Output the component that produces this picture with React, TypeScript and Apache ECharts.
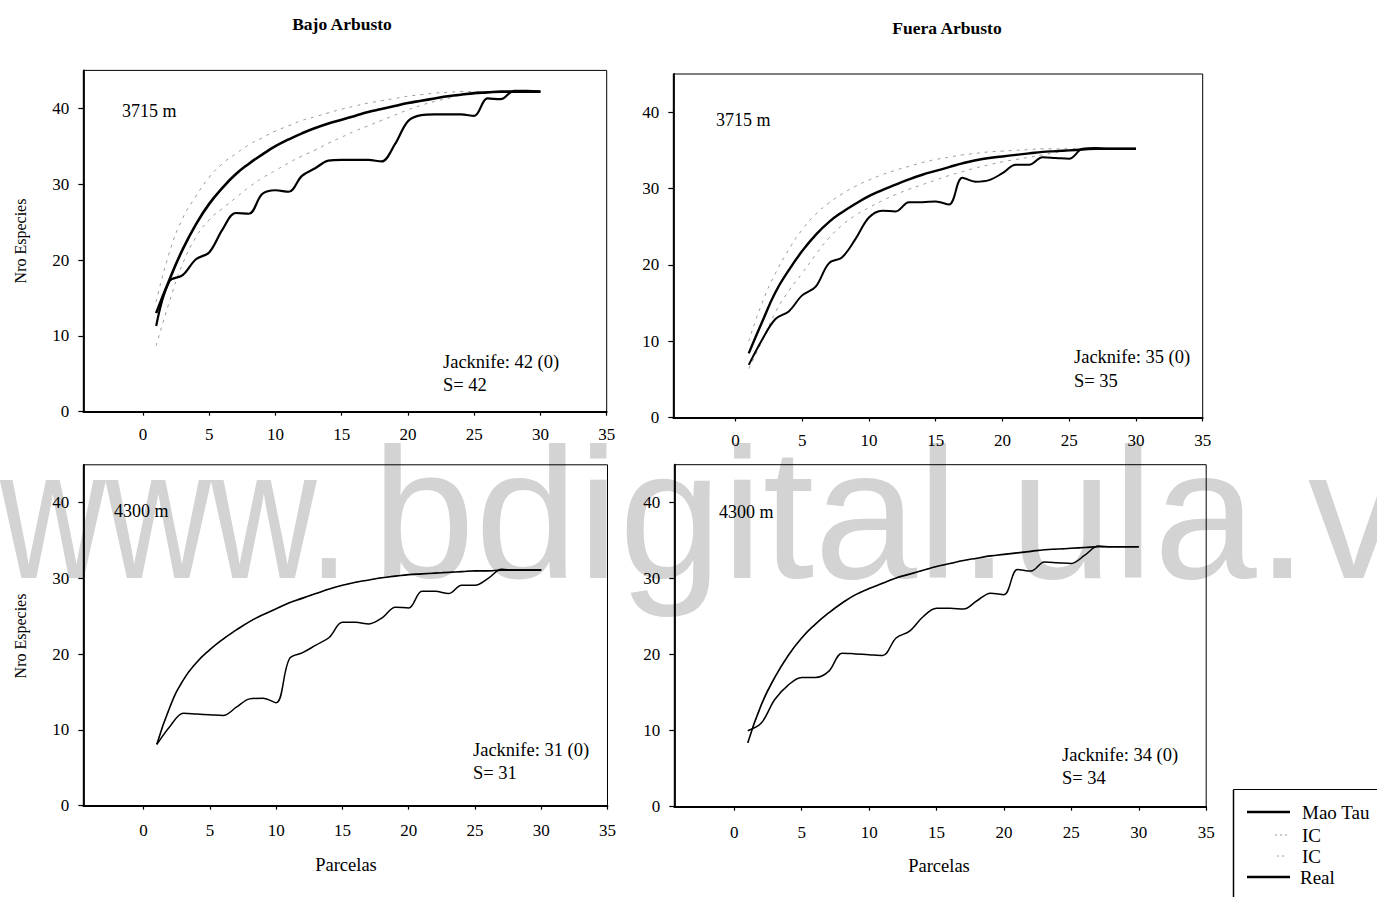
import React, { useEffect, useRef } from "react";
import * as echarts from "echarts";

// Parcelas (x values)
const parcelas = [1, 2, 3, 4, 5, 6, 7, 8, 9, 10, 11, 12, 13, 14, 15, 16, 17, 18, 19, 20, 21, 22, 23, 24, 25, 26, 27, 28, 29, 30];

const xTickValues = [0, 5, 10, 15, 20, 25, 30, 35];
const yTickValues = [0, 10, 20, 30, 40];

// Bajo Arbusto 3715 m
const bajo3715MaoTau = [13.0, 17.4, 21.4, 24.7, 27.4, 29.5, 31.3, 32.7, 33.9, 35.0, 35.9, 36.7, 37.4, 38.0, 38.5, 39.0, 39.5, 39.9, 40.3, 40.7, 41.0, 41.3, 41.6, 41.8, 42.0, 42.1, 42.2, 42.2, 42.2, 42.2];
const bajo3715ICSup = [14.5, 21.0, 25.5, 28.4, 30.9, 32.7, 34.0, 35.2, 36.1, 37.0, 37.7, 38.4, 38.9, 39.4, 39.9, 40.3, 40.7, 41.0, 41.3, 41.6, 41.8, 42.0, 42.1, 42.2, 42.2, 42.2, 42.2, 42.2, 42.2, 42.2];
const bajo3715ICInf = [8.7, 14.5, 19.5, 23.0, 25.3, 26.8, 28.2, 29.6, 30.8, 31.8, 32.8, 33.7, 34.5, 35.4, 36.2, 37.0, 37.7, 38.4, 39.1, 39.8, 40.4, 40.9, 41.3, 41.7, 41.9, 42.1, 42.2, 42.2, 42.2, 42.2];
const bajo3715Real = [11.3, 17.2, 18.0, 20.1, 21.0, 24.0, 26.2, 26.1, 28.7, 29.2, 29.0, 31.1, 32.1, 33.1, 33.2, 33.2, 33.2, 33.0, 35.2, 38.3, 39.1, 39.2, 39.2, 39.2, 39.0, 41.3, 41.2, 42.3, 42.3, 42.2];

// Fuera Arbusto 3715 m
const fuera3715MaoTau = [8.4, 12.5, 16.4, 19.3, 21.8, 23.9, 25.6, 26.9, 28.0, 29.0, 29.8, 30.5, 31.2, 31.8, 32.3, 32.8, 33.3, 33.7, 34.0, 34.2, 34.4, 34.6, 34.8, 34.9, 35.0, 35.1, 35.2, 35.2, 35.2, 35.2];
const fuera3715ICSup = [10.0, 15.0, 18.9, 22.0, 24.6, 26.6, 28.1, 29.3, 30.3, 31.1, 31.8, 32.4, 32.9, 33.4, 33.8, 34.1, 34.4, 34.6, 34.8, 34.9, 35.0, 35.1, 35.2, 35.2, 35.2, 35.2, 35.2, 35.2, 35.2, 35.2];
const fuera3715ICInf = [6.4, 10.0, 13.8, 16.6, 18.9, 21.3, 23.5, 25.2, 26.5, 27.5, 28.4, 29.2, 29.9, 30.5, 31.1, 31.7, 32.2, 32.7, 33.1, 33.5, 33.8, 34.1, 34.4, 34.7, 35.0, 35.2, 35.2, 35.2, 35.2, 35.2];
const fuera3715Real = [6.9, 10.2, 12.9, 13.9, 16.0, 17.1, 20.2, 21.0, 23.4, 26.2, 27.1, 27.0, 28.2, 28.2, 28.3, 27.9, 31.4, 30.9, 31.1, 32.0, 33.1, 33.1, 34.1, 34.0, 33.9, 35.2, 35.3, 35.2, 35.2, 35.2];

// Bajo Arbusto 4300 m
const bajo4300MaoTau = [8.1, 13.1, 16.6, 18.9, 20.6, 22.0, 23.2, 24.3, 25.2, 26.0, 26.8, 27.4, 28.0, 28.6, 29.1, 29.5, 29.8, 30.1, 30.3, 30.5, 30.6, 30.7, 30.8, 30.9, 31.0, 31.0, 31.1, 31.1, 31.1, 31.1];
const bajo4300ICSup = [8.1, 13.1, 16.6, 18.9, 20.6, 22.0, 23.2, 24.3, 25.2, 26.0, 26.8, 27.4, 28.0, 28.6, 29.1, 29.5, 29.8, 30.1, 30.3, 30.5, 30.6, 30.8, 30.9, 30.9, 31.0, 31.0, 31.1, 31.1, 31.1, 31.1];
const bajo4300ICInf = [8.1, 13.1, 16.6, 18.9, 20.6, 22.0, 23.2, 24.3, 25.2, 26.0, 26.8, 27.4, 28.0, 28.6, 29.1, 29.5, 29.8, 30.1, 30.3, 30.5, 30.6, 30.7, 30.8, 30.9, 31.0, 31.0, 31.1, 31.1, 31.1, 31.1];
const bajo4300Real = [8.1, 10.5, 12.2, 12.1, 12.0, 11.9, 13.0, 14.1, 14.2, 13.6, 19.4, 20.2, 21.2, 22.2, 24.2, 24.2, 24.0, 24.8, 26.2, 26.1, 28.3, 28.3, 28.0, 29.1, 29.1, 30.0, 31.2, 31.1, 31.1, 31.1];

// Fuera Arbusto 4300 m
const fuera4300MaoTau = [8.4, 13.4, 17.0, 19.9, 22.2, 24.0, 25.5, 26.8, 27.9, 28.7, 29.4, 30.1, 30.6, 31.1, 31.6, 32.0, 32.4, 32.7, 33.0, 33.2, 33.4, 33.6, 33.8, 33.9, 34.0, 34.1, 34.2, 34.2, 34.2, 34.2];
const fuera4300ICSup = [8.4, 13.4, 17.0, 19.9, 22.2, 24.0, 25.5, 26.8, 27.9, 28.7, 29.4, 30.1, 30.6, 31.1, 31.6, 32.0, 32.4, 32.7, 33.0, 33.2, 33.4, 33.6, 33.8, 33.9, 34.0, 34.1, 34.2, 34.2, 34.2, 34.2];
const fuera4300ICInf = [8.4, 13.4, 17.0, 19.9, 22.2, 24.0, 25.5, 26.8, 27.9, 28.7, 29.4, 30.1, 30.6, 31.1, 31.6, 32.0, 32.4, 32.7, 33.0, 33.2, 33.4, 33.6, 33.8, 33.9, 34.0, 34.1, 34.2, 34.2, 34.2, 34.2];
const fuera4300Real = [10.0, 11.0, 14.1, 16.0, 17.0, 17.0, 17.8, 20.2, 20.1, 20.0, 19.9, 22.2, 23.1, 25.0, 26.1, 26.1, 26.0, 27.1, 28.1, 27.9, 31.2, 31.0, 32.2, 32.1, 32.0, 33.1, 34.3, 34.2, 34.2, 34.2];

const columnTitles = ["Bajo Arbusto", "Fuera Arbusto"];
const altitudes = ["3715 m", "3715 m", "4300 m", "4300 m"];
const jacknifeLabels = ["Jacknife: 42 (0)", "Jacknife: 35 (0)", "Jacknife: 31 (0)", "Jacknife: 34 (0)"];
const sLabels = ["S= 42", "S= 35", "S= 31", "S= 34"];
const legendNames = ["Mao Tau", "IC", "IC", "Real"];

const FONT = "'Liberation Serif', 'Times New Roman', serif";

export default function App() {
  const ref = useRef<HTMLDivElement>(null);

  useEffect(() => {
    if (!ref.current) return;
    const chart = echarts.init(ref.current, null, { renderer: "svg" });

    const panels = [
      { grid: { left: 83.3, top: 70.4, width: 523.4, height: 341.3 }, xMin: -4.5, mao: bajo3715MaoTau, sup: bajo3715ICSup, inf: bajo3715ICInf, real: bajo3715Real, mw: 2.6, rw: 2.2, labelMargin: 14,
        alt: { x: 122, y: 111 }, jk: { x: 443, y: 362 }, s: { x: 443, y: 385 } },
      { grid: { left: 673.3, top: 74, width: 529.4, height: 343.5 }, xMin: -4.65, mao: fuera3715MaoTau, sup: fuera3715ICSup, inf: fuera3715ICInf, real: fuera3715Real, mw: 2.4, rw: 2.0, labelMargin: 14,
        alt: { x: 716, y: 120 }, jk: { x: 1074, y: 357 }, s: { x: 1074, y: 381 } },
      { grid: { left: 83.3, top: 464.8, width: 524.2, height: 340.9 }, xMin: -4.55, mao: bajo4300MaoTau, sup: bajo4300ICSup, inf: bajo4300ICInf, real: bajo4300Real, mw: 1.6, rw: 1.5, labelMargin: 16,
        alt: { x: 114, y: 511 }, jk: { x: 473, y: 750 }, s: { x: 473, y: 773 } },
      { grid: { left: 674.3, top: 464.7, width: 531.9, height: 342 }, xMin: -4.45, mao: fuera4300MaoTau, sup: fuera4300ICSup, inf: fuera4300ICInf, real: fuera4300Real, mw: 1.6, rw: 1.5, labelMargin: 17,
        alt: { x: 719, y: 512 }, jk: { x: 1062, y: 755 }, s: { x: 1062, y: 778 } },
    ];

    const toPairs = (ys: number[]) => parcelas.map((x, i) => [x, ys[i]]);

    const grids: any[] = [];
    const xAxes: any[] = [];
    const yAxes: any[] = [];
    const series: any[] = [];
    const graphics: any[] = [];

    const textEl = (text: string, x: number, y: number, size: number, extra: any = {}, align = "left") => ({
      type: "text",
      x,
      y,
      z: 10,
      ...extra,
      style: {
        text,
        font: `${extra.bold ? "bold " : ""}${size}px ${FONT}`,
        fill: "#000",
        align,
        textAlign: align,
        verticalAlign: "middle",
        textVerticalAlign: "middle",
      },
    });

    // Watermark (behind everything)
    graphics.push({
      type: "text", x: 0, y: 514, scaleX: 0.79, z: -10, silent: true,
      style: { text: "www.", font: "185px 'Liberation Sans', Arial, sans-serif", fill: "#d3d3d3", align: "left", textAlign: "left", verticalAlign: "middle", textVerticalAlign: "middle" },
    });
    graphics.push({
      type: "text", x: 372, y: 514, z: -10, silent: true,
      style: { text: "bdigital.ula.ve", font: "185px 'Liberation Sans', Arial, sans-serif", fill: "#d3d3d3", align: "left", textAlign: "left", verticalAlign: "middle", textVerticalAlign: "middle" },
    });

    panels.forEach((p, i) => {
      grids.push({ ...p.grid, show: true, borderColor: "#000", borderWidth: 1, backgroundColor: "transparent", containLabel: false, outerBoundsMode: "none", z: 1 });
      xAxes.push({
        type: "value", gridIndex: i, min: p.xMin, max: 35,
        axisLine: { show: true, onZero: false, lineStyle: { color: "#000", width: 1.8 } },
        axisTick: { show: true, inside: false, length: 4, customValues: xTickValues, lineStyle: { color: "#000", width: 1.2 } },
        axisLabel: { show: true, customValues: xTickValues, margin: p.labelMargin, color: "#000", fontFamily: FONT, fontSize: 17 },
        splitLine: { show: false },
      });
      yAxes.push({
        type: "value", gridIndex: i, min: 0, max: 45,
        axisLine: { show: true, onZero: false, lineStyle: { color: "#000", width: 1.8 } },
        axisTick: { show: true, inside: false, length: 5, customValues: yTickValues, lineStyle: { color: "#000", width: 1.2 } },
        axisLabel: { show: true, customValues: yTickValues, margin: 14, color: "#000", fontFamily: FONT, fontSize: 17 },
        splitLine: { show: false },
      });
      const common = { type: "line", xAxisIndex: i, yAxisIndex: i, showSymbol: false, symbol: "none", silent: true };
      series.push({ ...common, name: "IC", data: toPairs(p.sup), smooth: 0.5, z: 2, lineStyle: { color: "#9a9a9a", width: 1, type: [3, 5] } });
      series.push({ ...common, name: "IC", data: toPairs(p.inf), smooth: 0.5, z: 2, lineStyle: { color: "#9a9a9a", width: 1, type: [3, 5] } });
      series.push({ ...common, name: "Mao Tau", data: toPairs(p.mao), smooth: 0.5, z: 3, lineStyle: { color: "#000", width: p.mw } });
      series.push({ ...common, name: "Real", data: toPairs(p.real), smooth: 0.35, z: 4, lineStyle: { color: "#000", width: p.rw } });

      graphics.push(textEl(altitudes[i], p.alt.x, p.alt.y, 18));
      graphics.push(textEl(jacknifeLabels[i], p.jk.x, p.jk.y, 18.5));
      graphics.push(textEl(sLabels[i], p.s.x, p.s.y, 18.5));
    });

    // Column titles
    graphics.push(textEl(columnTitles[0], 342, 24, 17.5, { bold: true }, "center"));
    graphics.push(textEl(columnTitles[1], 947, 28, 17.5, { bold: true }, "center"));

    // Axis names
    graphics.push(textEl("Nro Especies", 20, 241, 16, { rotation: Math.PI / 2 }, "center"));
    graphics.push(textEl("Nro Especies", 20, 636, 16, { rotation: Math.PI / 2 }, "center"));
    graphics.push(textEl("Parcelas", 346, 865, 18.5, {}, "center"));
    graphics.push(textEl("Parcelas", 939, 866, 18.5, {}, "center"));

    // Legend box
    graphics.push({ type: "line", z: 10, shape: { x1: 1233.5, y1: 789.5, x2: 1233.5, y2: 897 }, style: { stroke: "#000", lineWidth: 1.5 } });
    graphics.push({ type: "line", z: 10, shape: { x1: 1233.5, y1: 789.5, x2: 1377, y2: 789.5 }, style: { stroke: "#000", lineWidth: 1.2 } });
    const legendY = [812, 835, 856, 877];
    const legendStyles = [
      { x1: 1247, x2: 1290, stroke: "#000", lineWidth: 2.5, lineDash: null },
      { x1: 1275, x2: 1288, stroke: "#9a9a9a", lineWidth: 1, lineDash: [2, 3] },
      { x1: 1277, x2: 1284, stroke: "#9a9a9a", lineWidth: 1, lineDash: [2, 3] },
      { x1: 1247, x2: 1290, stroke: "#000", lineWidth: 2.5, lineDash: null },
    ];
    legendNames.forEach((name, k) => {
      const s = legendStyles[k];
      graphics.push({ type: "line", z: 10, shape: { x1: s.x1, y1: legendY[k], x2: s.x2, y2: legendY[k] }, style: { stroke: s.stroke, lineWidth: s.lineWidth, lineDash: s.lineDash } });
      graphics.push(textEl(name, k === 3 ? 1300 : 1302, legendY[k], 19));
    });

    chart.setOption({
      animation: false,
      backgroundColor: "#fff",
      grid: grids,
      xAxis: xAxes,
      yAxis: yAxes,
      series,
      graphic: { elements: graphics },
    });

    return () => chart.dispose();
  }, []);

  return <div ref={ref} style={{ position: "absolute", left: 0, top: 0, width: 1377, height: 897 }} />;
}
